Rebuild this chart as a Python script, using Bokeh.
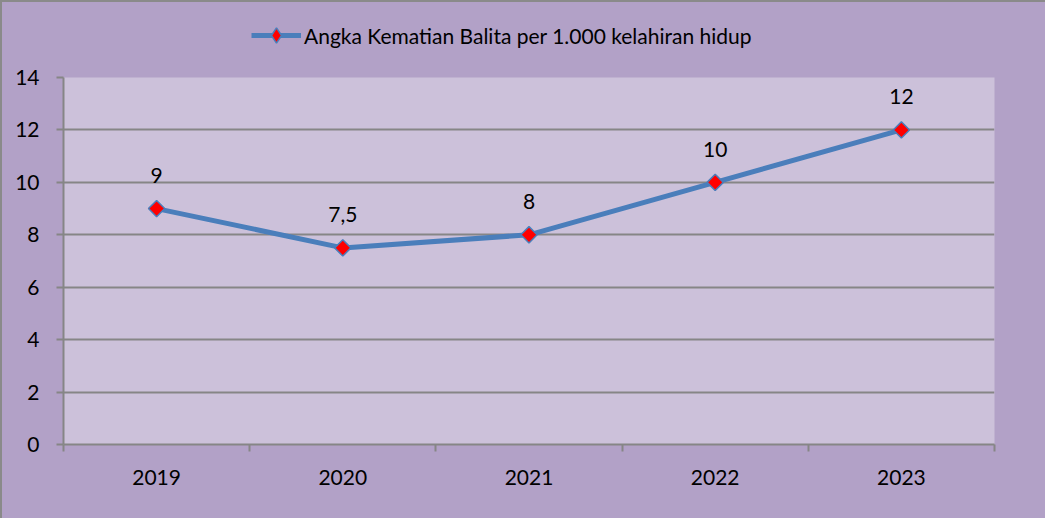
import math
from bokeh.plotting import figure
from bokeh.layouts import column
from bokeh.models import (ColumnDataSource, Range1d, FixedTicker, Legend, LegendItem)
from bokeh.core.properties import value
from bokeh.embed import file_html
from bokeh.resources import INLINE

years = ["2019", "2020", "2021", "2022", "2023"]
rates = [9, 7.5, 8, 10, 12]
series_name = "Angka Kematian Balita per 1.000 kelahiran hidup"
y_ticks = [0, 2, 4, 6, 8, 10, 12, 14]

FONT = "Lato"
FS = "21px"
GRID = "#868686"
LINE = "#4a7ebb"
OUTER = "#b2a1c7"
INNER = "#ccc1da"

idx = list(range(len(years)))
labels = [f"{v:g}".replace(".", ",") for v in rates]
src = ColumnDataSource(dict(x=idx, y=rates, lab=labels))

# ---- legend strip (above the plot area) ----
lg = figure(width=1043, height=63, output_backend="svg", toolbar_location=None,
            x_range=Range1d(100, 101), y_range=Range1d(100, 101),
            min_border_left=61, min_border_right=51, min_border_top=0, min_border_bottom=0,
            background_fill_alpha=0, border_fill_alpha=0,
            outline_line_color=None, x_axis_location=None, y_axis_location=None)
lg.grid.visible = False
l_line = lg.line("x", "y", source=src, line_color=LINE, line_width=5)
l_pts = lg.scatter("x", "y", source=src, marker="diamond", size=16,
                   fill_color="#ff0000", line_color=LINE, line_width=1.5)
legend = Legend(items=[LegendItem(label=series_name, renderers=[l_line, l_pts])],
                location=(188, 11), orientation="horizontal",
                background_fill_alpha=0, border_line_color=None,
                label_text_font=FONT, label_text_font_size=FS, label_text_color="#000000",
                glyph_width=50, glyph_height=38, label_standoff=3,
                padding=0, margin=0, spacing=0)
lg.add_layout(legend)

# ---- main chart ----
p = figure(width=1043, height=453, output_backend="svg", toolbar_location=None,
           x_range=Range1d(-0.5, len(years) - 0.5), y_range=Range1d(0, 14),
           min_border_left=61, min_border_right=51, min_border_bottom=74, min_border_top=12,
           background_fill_color=INNER, border_fill_alpha=0,
           outline_line_color=None)

p.line("x", "y", source=src, line_color=LINE, line_width=5)
p.scatter("x", "y", source=src, marker="square", angle=math.pi / 4, size=11.5,
          fill_color="#ff0000", line_color=LINE, line_width=1.5)
p.text("x", "y", text="lab", source=src, y_offset=-33, text_align="center",
       text_baseline="middle", text_font=value(FONT), text_font_size=FS, text_color="#000000")

xa = p.xaxis[0]
xa.ticker = FixedTicker(ticks=idx, minor_ticks=[i - 0.5 for i in range(len(years) + 1)])
xa.major_label_overrides = {i: y for i, y in zip(idx, years)}
xa.major_tick_in = 0
xa.major_tick_out = 0
xa.minor_tick_in = 0
xa.minor_tick_out = 7
xa.minor_tick_line_color = GRID
xa.minor_tick_line_width = 2
xa.axis_line_color = GRID
xa.axis_line_width = 2
xa.major_label_standoff = 18

ya = p.yaxis[0]
ya.ticker = FixedTicker(ticks=y_ticks)
ya.major_tick_in = 0
ya.major_tick_out = 7
ya.major_tick_line_color = GRID
ya.major_tick_line_width = 2
ya.minor_tick_line_color = None
ya.axis_line_color = GRID
ya.axis_line_width = 2
ya.major_label_standoff = 17

for ax in (xa, ya):
    ax.major_label_text_font = FONT
    ax.major_label_text_font_size = FS
    ax.major_label_text_color = "#000000"

p.xgrid.grid_line_color = None
p.ygrid.grid_line_color = GRID
p.ygrid.grid_line_width = 2
p.ygrid.ticker = FixedTicker(ticks=y_ticks)

layout = column(lg, p, spacing=0,
                styles={"border-top": "2px solid #8a8a8a", "border-left": "2px solid #8a8a8a",
                        "background-color": OUTER})

open("out.html", "w").write(file_html(layout, INLINE))
